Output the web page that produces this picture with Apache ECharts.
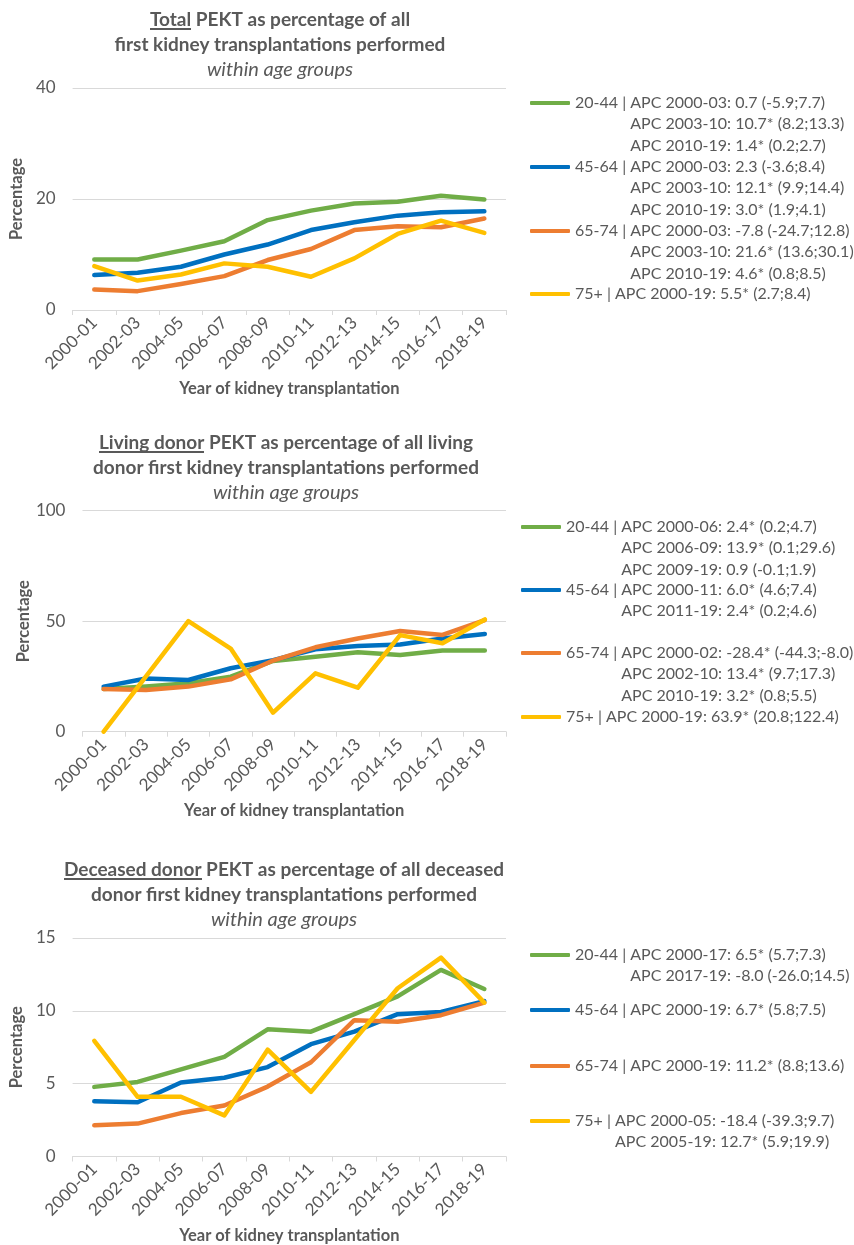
<!DOCTYPE html>
<html><head><meta charset="utf-8">
<script src="https://cdn.jsdelivr.net/npm/echarts@6/dist/echarts.min.js"></script>
<style>html,body{margin:0;padding:0;background:#fff}#c{width:854px;height:1245px}</style>
</head><body><div id="c"></div>
<script>
// ---------- DATA ----------
const categories = ['2000-01','2002-03','2004-05','2006-07','2008-09','2010-11','2012-13','2014-15','2016-17','2018-19'];
const ageGroups = ['20-44','45-64','65-74','75+'];

const total_20_44  = [9.1, 9.1, 10.7, 12.4, 16.2, 17.9, 19.2, 19.5, 20.6, 19.9];
const total_45_64  = [6.3, 6.7, 7.8, 10.0, 11.8, 14.4, 15.8, 17.0, 17.6, 17.8];
const total_65_74  = [3.7, 3.4, 4.7, 6.1, 9.0, 11.0, 14.4, 15.1, 14.9, 16.5];
const total_75plus = [7.9, 5.3, 6.4, 8.4, 7.8, 6.0, 9.3, 13.7, 16.1, 13.9];

const living_20_44  = [19.3, 20.4, 21.9, 24.9, 32.0, 33.9, 35.9, 34.7, 36.7, 36.7];
const living_45_64  = [20.4, 24.1, 23.4, 28.7, 32.4, 37.3, 38.8, 39.5, 42.2, 44.2];
const living_65_74  = [19.3, 18.9, 20.4, 23.7, 32.2, 38.2, 42.2, 45.6, 43.8, 50.5];
const living_75plus = [0, 25.0, 50.0, 37.6, 8.6, 26.4, 19.9, 43.7, 40.0, 50.8];

const deceased_20_44  = [4.78, 5.12, 5.98, 6.84, 8.73, 8.57, 9.77, 10.99, 12.81, 11.5];
const deceased_45_64  = [3.79, 3.72, 5.08, 5.41, 6.14, 7.71, 8.57, 9.77, 9.92, 10.67];
const deceased_65_74  = [2.14, 2.26, 2.98, 3.5, 4.8, 6.47, 9.36, 9.25, 9.7, 10.56];
const deceased_75plus = [7.94, 4.1, 4.1, 2.82, 7.33, 4.44, 8.0, 11.55, 13.65, 10.56];

const totalTicks = [0, 20, 40];
const livingTicks = [0, 50, 100];
const deceasedTicks = [0, 5, 10, 15];

const totalLegend = [
  ['20-44 | APC 2000-03: 0.7 (-5.9;7.7)', 'APC 2003-10: 10.7* (8.2;13.3)', 'APC 2010-19: 1.4* (0.2;2.7)'],
  ['45-64 | APC 2000-03: 2.3 (-3.6;8.4)', 'APC 2003-10: 12.1* (9.9;14.4)', 'APC 2010-19: 3.0* (1.9;4.1)'],
  ['65-74 | APC 2000-03: -7.8 (-24.7;12.8)', 'APC 2003-10: 21.6* (13.6;30.1)', 'APC 2010-19: 4.6* (0.8;8.5)'],
  ['75+ | APC 2000-19: 5.5* (2.7;8.4)']
];
const livingLegend = [
  ['20-44 | APC 2000-06: 2.4* (0.2;4.7)', 'APC 2006-09: 13.9* (0.1;29.6)', 'APC 2009-19: 0.9 (-0.1;1.9)'],
  ['45-64 | APC 2000-11: 6.0* (4.6;7.4)', 'APC 2011-19: 2.4* (0.2;4.6)'],
  ['65-74 | APC 2000-02: -28.4* (-44.3;-8.0)', 'APC 2002-10: 13.4* (9.7;17.3)', 'APC 2010-19: 3.2* (0.8;5.5)'],
  ['75+ | APC 2000-19: 63.9* (20.8;122.4)']
];
const deceasedLegend = [
  ['20-44 | APC 2000-17: 6.5* (5.7;7.3)', 'APC 2017-19: -8.0 (-26.0;14.5)'],
  ['45-64 | APC 2000-19: 6.7* (5.8;7.5)'],
  ['65-74 | APC 2000-19: 11.2* (8.8;13.6)'],
  ['75+ | APC 2000-05: -18.4 (-39.3;9.7)', 'APC 2005-19: 12.7* (5.9;19.9)']
];

const titleParts = [
  ['Total', ' PEKT as percentage of all', 'first kidney transplantations performed'],
  ['Living donor', ' PEKT as percentage of all living', 'donor first kidney transplantations performed'],
  ['Deceased donor', ' PEKT as percentage of all deceased', 'donor first kidney transplantations performed']
];
const subtitleText = 'within age groups';
const xName = 'Year of kidney transplantation';
const yName = 'Percentage';

// ---------- STYLE / LAYOUT ----------
const colors = ['#70AD47', '#0070C0', '#ED7D31', '#FFC000'];
const TXT = '#595959';
const FONT = 'Lato';
const LH = 21.3;
const LEG_FS = 16;
const TICK_FS = 17;
const NAME_FS = 16.5;
const TITLE_FS = 19;

const panels = [
  {key: 'Total', data: [total_20_44, total_45_64, total_65_74, total_75plus], ticks: totalTicks, legend: totalLegend,
   gridTop: 88, gridH: 222, titleTop: 8, titleX: 280, legLeft: 530, legCenters: [103, 167, 231, 294]},
  {key: 'Living', data: [living_20_44, living_45_64, living_65_74, living_75plus], ticks: livingTicks, legend: livingLegend,
   gridTop: 510.7, gridH: 221, titleTop: 431, titleX: 286, legLeft: 521, legCenters: [527, 590, 653, 717]},
  {key: 'Deceased', data: [deceased_20_44, deceased_45_64, deceased_65_74, deceased_75plus], ticks: deceasedTicks, legend: deceasedLegend,
   gridTop: 938, gridH: 222, titleTop: 858, titleX: 284, legLeft: 530, legCenters: [955, 1010, 1066, 1121]}
];

// underline image
const ul = document.createElement('canvas');
ul.width = 4; ul.height = 40;
(function(){ const c = ul.getContext('2d'); c.fillStyle = TXT; c.fillRect(0, 36, 4, 4); })();

const mctx = document.createElement('canvas').getContext('2d');
function measure(t) { mctx.font = LEG_FS + 'px ' + FONT; return mctx.measureText(t).width; }

const option = {
  animation: false,
  backgroundColor: '#fff',
  title: [], grid: [], xAxis: [], yAxis: [], series: [], legend: []
};

panels.forEach((p, pi) => {
  const tp = titleParts[pi];
  option.title.push({
    text: '{u|' + tp[0] + '}{b|' + tp[1] + '}\n{b|' + tp[2] + '}\n{i|' + subtitleText + '}',
    left: p.titleX, top: p.titleTop, textAlign: 'center', padding: 0,
    textStyle: {
      rich: {
        u: {fontFamily: FONT, fontWeight: 'bold', fontSize: TITLE_FS, color: TXT, lineHeight: 24.5, height: 19,
            backgroundColor: {image: ul}},
        b: {fontFamily: FONT, fontWeight: 'bold', fontSize: TITLE_FS, color: TXT, lineHeight: 24.5},
        i: {fontFamily: FONT, fontWeight: 'normal', fontStyle: 'italic', fontSize: 20, color: TXT, lineHeight: 26}
      }
    }
  });
  option.grid.push({left: 66, width: 440, top: p.gridTop, height: p.gridH});
  option.xAxis.push({
    type: 'category', gridIndex: pi, data: categories, boundaryGap: true,
    name: xName, nameLocation: 'middle', nameGap: 70.5,
    nameTextStyle: {fontFamily: FONT, fontWeight: 'bold', fontSize: NAME_FS, color: TXT},
    axisLine: {lineStyle: {color: '#D9D9D9', width: 1}},
    axisTick: {show: true, length: 5, lineStyle: {color: '#D9D9D9'}},
    axisLabel: {rotate: 45, interval: 0, margin: 10, fontFamily: FONT, fontSize: TICK_FS, color: TXT},
    splitLine: {show: false}
  });
  const t = p.ticks;
  option.yAxis.push({
    type: 'value', gridIndex: pi, min: t[0], max: t[t.length - 1], interval: t[1] - t[0],
    name: yName, nameLocation: 'middle', nameGap: 40, nameRotate: 90,
    nameTextStyle: {fontFamily: FONT, fontWeight: 'bold', fontSize: NAME_FS, color: TXT},
    axisLine: {show: false}, axisTick: {show: false},
    axisLabel: {margin: 17, fontFamily: FONT, fontSize: TICK_FS, color: TXT},
    splitLine: {lineStyle: {color: '#D9D9D9', width: 1}}
  });
  p.data.forEach((arr, si) => {
    option.series.push({
      name: p.key + ' ' + ageGroups[si], type: 'line', xAxisIndex: pi, yAxisIndex: pi,
      data: arr, symbol: 'none', smooth: false, color: colors[si],
      lineStyle: {width: 4.5, color: colors[si], cap: 'round', join: 'round'}
    });
  });
  p.legend.forEach((lines, li) => {
    const prefix = lines[0].slice(0, lines[0].indexOf('APC'));
    const ind = measure(prefix);
    const n = lines.length;
    const str = lines.map((l, j) => j === 0 ? '{t|' + l + '}' : '{ind| }{t|' + l + '}').join('\n');
    const ts = {fontFamily: FONT, fontSize: LEG_FS, color: TXT, lineHeight: LH};
    option.legend.push({
      data: [p.key + ' ' + ageGroups[li]], left: p.legLeft, top: p.legCenters[li] - (n - 0.5) * LH,
      orient: 'vertical', padding: 0, selectedMode: false,
      icon: 'roundRect', itemWidth: 40, itemHeight: 4, itemGap: 5,
      formatter: function () { return str; },
      textStyle: Object.assign({}, ts, {
        padding: [(n - 1) * LH, 0, 0, 0],
        rich: {t: Object.assign({}, ts), ind: Object.assign({}, ts, {width: ind})}
      })
    });
  });
});

const chart = echarts.init(document.getElementById('c'), null, {renderer: 'canvas'});
chart.setOption(option);
</script>
</body></html>
